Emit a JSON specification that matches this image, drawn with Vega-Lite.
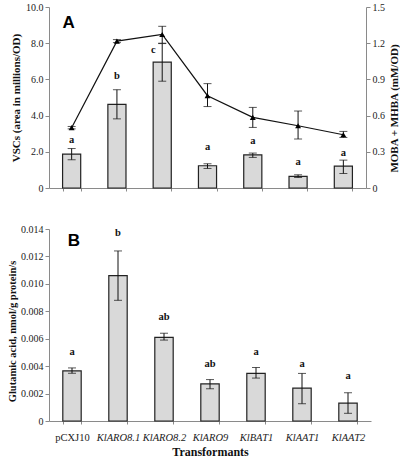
{
  "$schema": "https://vega.github.io/schema/vega-lite/v6.json",
  "padding": {"left": 7, "top": 2, "right": 0, "bottom": 0},
  "spacing": 41,
  "bounds": "flush",
  "config": {
    "view": {"stroke": null},
    "font": "Liberation Serif",
    "axis": {
      "domainColor": "#8a8a8a", "tickColor": "#8a8a8a", "labelColor": "#222222",
      "labelFont": "Liberation Serif", "labelFontSize": 10, "labelOverlap": false, "labelBound": false,
      "titleFont": "Liberation Serif", "titleFontSize": 11, "titleFontWeight": "bold", "titleColor": "#111111",
      "grid": false, "tickSize": 4
    }
  },
  "datasets": {
    "top": [
      {"t": "pCXJ10", "vsc": 1.87, "vscLo": 1.56, "vscHi": 2.18, "sig": "a", "sigY": 2.66, "moba": 0.50, "mobaLo": 0.49, "mobaHi": 0.51},
      {"t": "KlARO8.1", "vsc": 4.62, "vscLo": 3.82, "vscHi": 5.43, "sig": "b", "sigY": 6.18, "moba": 1.217, "mobaLo": 1.205, "mobaHi": 1.23},
      {"t": "KlARO8.2", "vsc": 6.95, "vscLo": 5.9, "vscHi": 7.98, "sig": "c", "sigY": 7.6, "moba": 1.272, "mobaLo": 1.2, "mobaHi": 1.34},
      {"t": "KlARO9", "vsc": 1.23, "vscLo": 1.08, "vscHi": 1.34, "sig": "a", "sigY": 2.29, "moba": 0.765, "mobaLo": 0.675, "mobaHi": 0.865},
      {"t": "KlBAT1", "vsc": 1.83, "vscLo": 1.69, "vscHi": 1.93, "sig": "a", "sigY": 2.57, "moba": 0.585, "mobaLo": 0.502, "mobaHi": 0.668},
      {"t": "KlAAT1", "vsc": 0.64, "vscLo": 0.58, "vscHi": 0.73, "sig": "a", "sigY": 1.41, "moba": 0.516, "mobaLo": 0.406, "mobaHi": 0.638},
      {"t": "KlAAT2", "vsc": 1.21, "vscLo": 0.80, "vscHi": 1.54, "sig": "a", "sigY": 1.93, "moba": 0.441, "mobaLo": 0.419, "mobaHi": 0.469}
    ],
    "bottom": [
      {"t": "pCXJ10", "glu": 0.00365, "gluLo": 0.00348, "gluHi": 0.00387, "sig": "a", "sigY": 0.00506},
      {"t": "KlARO8.1", "glu": 0.0106, "gluLo": 0.0088, "gluHi": 0.0124, "sig": "b", "sigY": 0.0137},
      {"t": "KlARO8.2", "glu": 0.0061, "gluLo": 0.0059, "gluHi": 0.0064, "sig": "ab", "sigY": 0.0076},
      {"t": "KlARO9", "glu": 0.0027, "gluLo": 0.00235, "gluHi": 0.00302, "sig": "ab", "sigY": 0.00416},
      {"t": "KlBAT1", "glu": 0.00347, "gluLo": 0.00313, "gluHi": 0.0039, "sig": "a", "sigY": 0.00504},
      {"t": "KlAAT1", "glu": 0.0024, "gluLo": 0.00126, "gluHi": 0.00347, "sig": "a", "sigY": 0.00416},
      {"t": "KlAAT2", "glu": 0.00130, "gluLo": 0.00056, "gluHi": 0.00206, "sig": "a", "sigY": 0.0033}
    ],
    "panelA": [{"t": "pCXJ10", "y": 9.1, "label": "A"}],
    "panelB": [{"t": "pCXJ10", "y": 0.0131, "label": "B"}]
  },
  "vconcat": [
    {
      "width": 317,
      "height": 181,
      "data": {"name": "top"},
      "layer": [
        {
          "layer": [
            {
              "mark": {"type": "bar", "fill": "#d9d9d9", "stroke": "#222222", "strokeWidth": 1.2},
              "encoding": {
                "x": {"field": "t", "type": "nominal", "sort": null,
                  "scale": {"domain": ["pCXJ10", "KlARO8.1", "KlARO8.2", "KlARO9", "KlBAT1", "KlAAT1", "KlAAT2"], "paddingInner": 0.6, "paddingOuter": 0.3},
                  "axis": {"title": null, "labels": false, "tickBand": "extent", "tickSize": 3}},
                "y": {"field": "vsc", "type": "quantitative", "scale": {"domain": [0, 10], "nice": false},
                  "axis": {"title": "VSCs (area in millions/OD)", "values": [0, 2, 4, 6, 8, 10], "tickCount": 6,
                    "labelOverlap": false, "labelFont": "Liberation Serif", "labelFontSize": 10,
                    "labelExpr": "datum.value == 0 ? '0' : format(datum.value, '.1f')", "labelPadding": 2, "titlePadding": 4}}
              }
            },
            {
              "mark": {"type": "rule", "color": "#111111", "strokeWidth": 1},
              "encoding": {
                "x": {"field": "t", "type": "nominal", "sort": null},
                "y": {"field": "vscLo", "type": "quantitative"},
                "y2": {"field": "vscHi"}
              }
            },
            {
              "mark": {"type": "tick", "color": "#111111", "size": 8, "thickness": 1},
              "encoding": {
                "x": {"field": "t", "type": "nominal", "sort": null},
                "y": {"field": "vscLo", "type": "quantitative"}
              }
            },
            {
              "mark": {"type": "tick", "color": "#111111", "size": 8, "thickness": 1},
              "encoding": {
                "x": {"field": "t", "type": "nominal", "sort": null},
                "y": {"field": "vscHi", "type": "quantitative"}
              }
            },
            {
              "transform": [{"filter": "datum.sig != 'c'"}],
              "mark": {"type": "text", "font": "Liberation Serif", "fontWeight": "bold", "fontSize": 10.5, "baseline": "middle", "color": "#111111"},
              "encoding": {
                "x": {"field": "t", "type": "nominal", "sort": null},
                "y": {"field": "sigY", "type": "quantitative"},
                "text": {"field": "sig"}
              }
            },
            {
              "transform": [{"filter": "datum.sig == 'c'"}],
              "mark": {"type": "text", "font": "Liberation Serif", "fontWeight": "bold", "fontSize": 10.5, "baseline": "middle", "color": "#111111", "dx": -9},
              "encoding": {
                "x": {"field": "t", "type": "nominal", "sort": null},
                "y": {"field": "sigY", "type": "quantitative"},
                "text": {"field": "sig"}
              }
            },
            {
              "data": {"name": "panelA"},
              "mark": {"type": "text", "font": "Liberation Sans", "fontWeight": "bold", "fontSize": 17, "baseline": "middle", "color": "#000000", "dx": -3},
              "encoding": {
                "x": {"field": "t", "type": "nominal"},
                "y": {"field": "y", "type": "quantitative"},
                "text": {"field": "label"}
              }
            }
          ]
        },
        {
          "layer": [
            {
              "mark": {"type": "line", "color": "#111111", "strokeWidth": 1.2},
              "encoding": {
                "x": {"field": "t", "type": "nominal", "sort": null},
                "y": {"field": "moba", "type": "quantitative", "scale": {"domain": [0, 1.5], "nice": false},
                  "axis": {"orient": "right", "title": "MOBA + MHBA (mM/OD)", "values": [0, 0.3, 0.6, 0.9, 1.2, 1.5], "tickCount": 6,
                    "labelOverlap": false, "labelFont": "Liberation Serif", "labelFontSize": 10,
                    "labelExpr": "datum.value == 0 ? '0' : format(datum.value, '.1f')", "labelPadding": 2,
                    "titleAngle": 270, "titleBaseline": "top", "titlePadding": 4, "titleY": 101}},
                "order": {"value": null}
              }
            },
            {
              "mark": {"type": "rule", "color": "#111111", "strokeWidth": 1},
              "encoding": {
                "x": {"field": "t", "type": "nominal", "sort": null},
                "y": {"field": "mobaLo", "type": "quantitative"},
                "y2": {"field": "mobaHi"}
              }
            },
            {
              "mark": {"type": "tick", "color": "#111111", "size": 8, "thickness": 1},
              "encoding": {
                "x": {"field": "t", "type": "nominal", "sort": null},
                "y": {"field": "mobaLo", "type": "quantitative"}
              }
            },
            {
              "mark": {"type": "tick", "color": "#111111", "size": 8, "thickness": 1},
              "encoding": {
                "x": {"field": "t", "type": "nominal", "sort": null},
                "y": {"field": "mobaHi", "type": "quantitative"}
              }
            },
            {
              "mark": {"type": "point", "shape": "triangle-up", "filled": true, "color": "#000000", "size": 35, "opacity": 1},
              "encoding": {
                "x": {"field": "t", "type": "nominal", "sort": null},
                "y": {"field": "moba", "type": "quantitative"}
              }
            }
          ]
        }
      ],
      "resolve": {"scale": {"y": "independent"}}
    },
    {
      "width": 322,
      "height": 192,
      "data": {"name": "bottom"},
      "layer": [
        {
          "mark": {"type": "bar", "fill": "#d9d9d9", "stroke": "#222222", "strokeWidth": 1.2},
          "encoding": {
            "x": {"field": "t", "type": "nominal", "sort": null,
              "scale": {"domain": ["pCXJ10", "KlARO8.1", "KlARO8.2", "KlARO9", "KlBAT1", "KlAAT1", "KlAAT2"], "paddingInner": 0.6, "paddingOuter": 0.3},
              "axis": {"title": "Transformants", "titleFontSize": 12, "titlePadding": 4, "labelAngle": 0,
                "tickBand": "extent", "tickSize": 3, "labelPadding": 8, "labelFontSize": 10.5, "labelFont": "Liberation Serif",
                "labelFontStyle": {"expr": "datum.value == 'pCXJ10' ? 'normal' : 'italic'"}}},
            "y": {"field": "glu", "type": "quantitative", "scale": {"domain": [0, 0.014], "nice": false},
              "axis": {"title": "Glutamic acid, nmol/g protein/s", "values": [0, 0.002, 0.004, 0.006, 0.008, 0.01, 0.012, 0.014], "tickCount": 8,
                "labelOverlap": false, "labelFont": "Liberation Serif", "labelFontSize": 10,
                "labelExpr": "datum.value == 0 ? '0' : format(datum.value, '.3f')", "labelPadding": 2,
                "titleFontSize": 10.5, "titlePadding": 3, "titleY": 102}}
          }
        },
        {
          "mark": {"type": "rule", "color": "#111111", "strokeWidth": 1},
          "encoding": {
            "x": {"field": "t", "type": "nominal", "sort": null},
            "y": {"field": "gluLo", "type": "quantitative"},
            "y2": {"field": "gluHi"}
          }
        },
        {
          "mark": {"type": "tick", "color": "#111111", "size": 8, "thickness": 1},
          "encoding": {
            "x": {"field": "t", "type": "nominal", "sort": null},
            "y": {"field": "gluLo", "type": "quantitative"}
          }
        },
        {
          "mark": {"type": "tick", "color": "#111111", "size": 8, "thickness": 1},
          "encoding": {
            "x": {"field": "t", "type": "nominal", "sort": null},
            "y": {"field": "gluHi", "type": "quantitative"}
          }
        },
        {
          "mark": {"type": "text", "font": "Liberation Serif", "fontWeight": "bold", "fontSize": 10.5, "baseline": "middle", "color": "#111111"},
          "encoding": {
            "x": {"field": "t", "type": "nominal", "sort": null},
            "y": {"field": "sigY", "type": "quantitative"},
            "text": {"field": "sig"}
          }
        },
        {
          "data": {"name": "panelB"},
          "mark": {"type": "text", "font": "Liberation Sans", "fontWeight": "bold", "fontSize": 17, "baseline": "middle", "color": "#000000", "dx": 2},
          "encoding": {
            "x": {"field": "t", "type": "nominal"},
            "y": {"field": "y", "type": "quantitative"},
            "text": {"field": "label"}
          }
        }
      ]
    }
  ]
}
